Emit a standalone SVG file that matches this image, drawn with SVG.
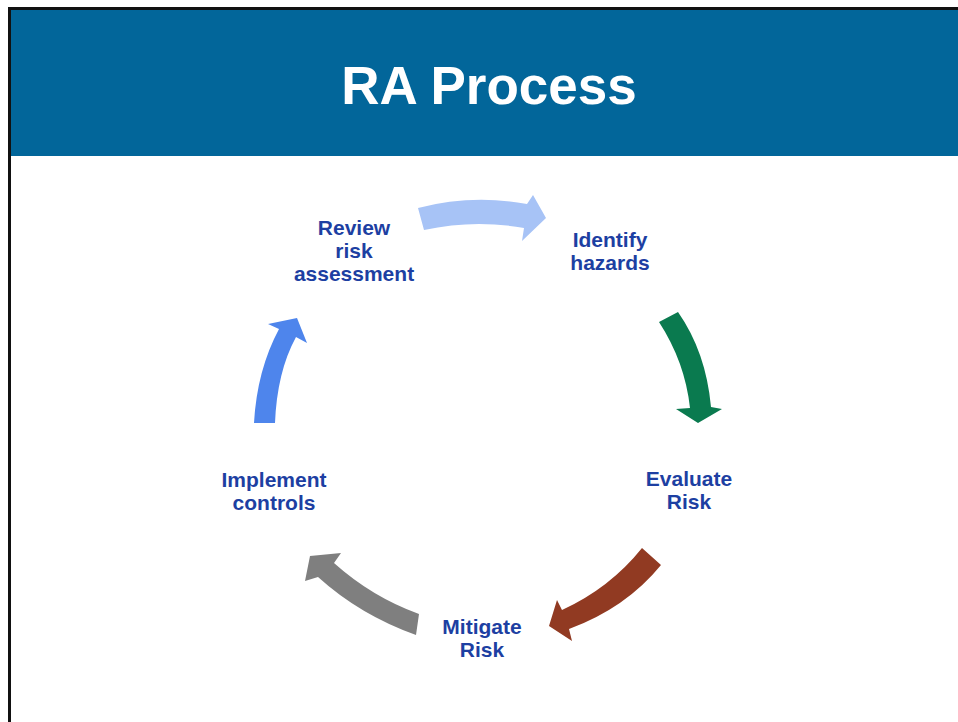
<svg xmlns="http://www.w3.org/2000/svg" width="958" height="722" viewBox="0 0 958 722">
  <style>
    .title { font-family: "Liberation Sans", Arial, sans-serif; font-weight: bold; font-size: 53px; fill: #ffffff; text-anchor: middle; }
    .label { font-family: "Liberation Sans", Arial, sans-serif; font-weight: bold; font-size: 21px; fill: #1d3fa2; text-anchor: middle; }
  </style>
  <!-- page background and frame -->
  <rect x="0" y="0" width="958" height="722" fill="#ffffff"/>
  <rect x="8" y="7" width="950" height="3" fill="#111111"/>
  <rect x="8" y="7" width="3" height="715" fill="#111111"/>
  <!-- header band -->
  <rect x="11" y="10" width="947" height="146" fill="#02669a"/>
  <text class="title" x="489" y="104">RA Process</text>

  <!-- cycle steps -->
  <g id="review">
    <text class="label" x="354" y="235">Review</text>
    <text class="label" x="354" y="258">risk</text>
    <text class="label" x="354" y="281">assessment</text>
  </g>
  <g id="identify">
    <text class="label" x="610" y="247">Identify</text>
    <text class="label" x="610" y="270">hazards</text>
  </g>
  <g id="evaluate">
    <text class="label" x="689" y="486">Evaluate</text>
    <text class="label" x="689" y="509">Risk</text>
  </g>
  <g id="mitigate">
    <text class="label" x="482" y="634">Mitigate</text>
    <text class="label" x="482" y="657">Risk</text>
  </g>
  <g id="implement">
    <text class="label" x="274" y="487">Implement</text>
    <text class="label" x="274" y="510">controls</text>
  </g>

  <!-- curved block arrows between steps -->
  <g id="connectors">
    <path fill="#a7c3f6" d="M418,208 Q472,194 527,204 L533,195 L546,218 L522,241 L524,228 Q474,219 424,230 Z"/>
    <path fill="#0a7a4f" d="M659,322 L678,312 Q706,352 711,407 L722,409 L698,423 L676,409 L690,408 Q685,362 659,322 Z"/>
    <path fill="#913a22" d="M642,548 L661,565 Q626,608 569,629 L572,641 L549,626 L557,600 L562,610 Q610,588 642,548 Z"/>
    <path fill="#7f7f7f" d="M419,614 L416,635 Q360,615 318,577 L305,581 L310,556 L341,553 L334,563 Q372,597 419,614 Z"/>
    <path fill="#4e85ec" d="M254,423 L275,423 Q277,372 296,337 L307,343 L297,318 L268,324 L279,329 Q257,370 254,423 Z"/>
  </g>
</svg>
